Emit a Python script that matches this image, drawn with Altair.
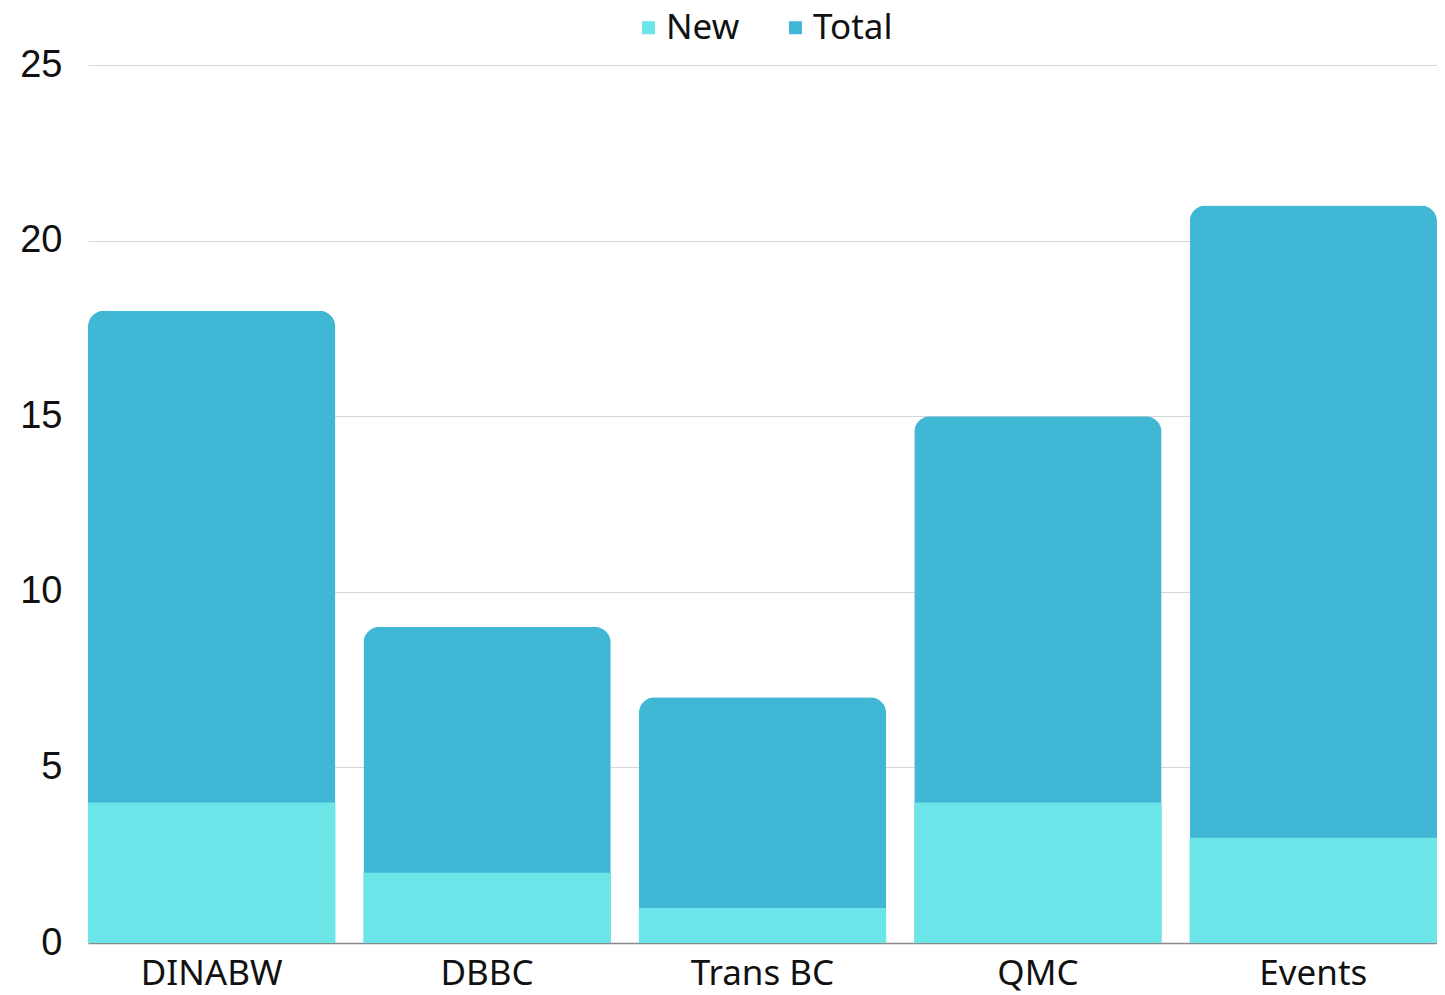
import altair as alt
import pandas as pd

categories = ["DINABW", "DBBC", "Trans BC", "QMC", "Events"]
new_values = [4, 2, 1, 4, 3]
total_values = [18, 9, 7, 15, 21]

df = pd.DataFrame({"category": categories, "New": new_values, "Total": total_values})
long = df.melt(id_vars="category", var_name="series", value_name="value")

color_scale = alt.Scale(domain=["New", "Total"], range=["#6ce5e8", "#41b7d6"])

x = alt.X("category:N", sort=categories, title=None,
          scale=alt.Scale(paddingInner=0.102, paddingOuter=0),
          axis=alt.Axis(labelAngle=0, labelFontSize=35, labelFont="Noto Sans",
                        labelColor="#111111", labelPadding=13, ticks=False,
                        domainColor="#8a8a8a", domainWidth=1.5, grid=False))
y = alt.Y("value:Q", title=None,
          scale=alt.Scale(domain=[0, 25], nice=False),
          axis=alt.Axis(values=[0, 5, 10, 15, 20, 25], labelFontSize=38,
                        labelFont="Liberation Sans", labelColor="#111111",
                        labelPadding=26, ticks=False, domain=False,
                        gridColor="#d6d6d6", gridWidth=1,
                        minExtent=80, maxExtent=80))
color = alt.Color("series:N", scale=color_scale, title=None,
                  legend=alt.Legend(orient="none", direction="horizontal",
                                    legendX=543, legendY=-55,
                                    symbolType="square", symbolSize=170,
                                    labelFontSize=35, labelFont="Noto Sans",
                                    labelColor="#111111", columnPadding=38,
                                    labelOffset=0,
                                    symbolStrokeWidth=0, padding=0))

total_layer = alt.Chart(long).transform_filter(alt.datum.series == "Total").mark_bar(
    cornerRadiusTopLeft=16, cornerRadiusTopRight=16
).encode(x=x, y=y, color=color)

new_layer = alt.Chart(long).transform_filter(alt.datum.series == "New").mark_bar().encode(
    x=x, y=y, color=color)

chart = alt.layer(total_layer, new_layer).properties(
    width=1349, height=878,
    padding={"left": 0, "right": 0, "top": 2, "bottom": 0}
).configure_view(stroke=None).configure_axis(labelFontWeight="normal")

chart.save("out.html", embed_options={"renderer": "svg", "actions": False})
